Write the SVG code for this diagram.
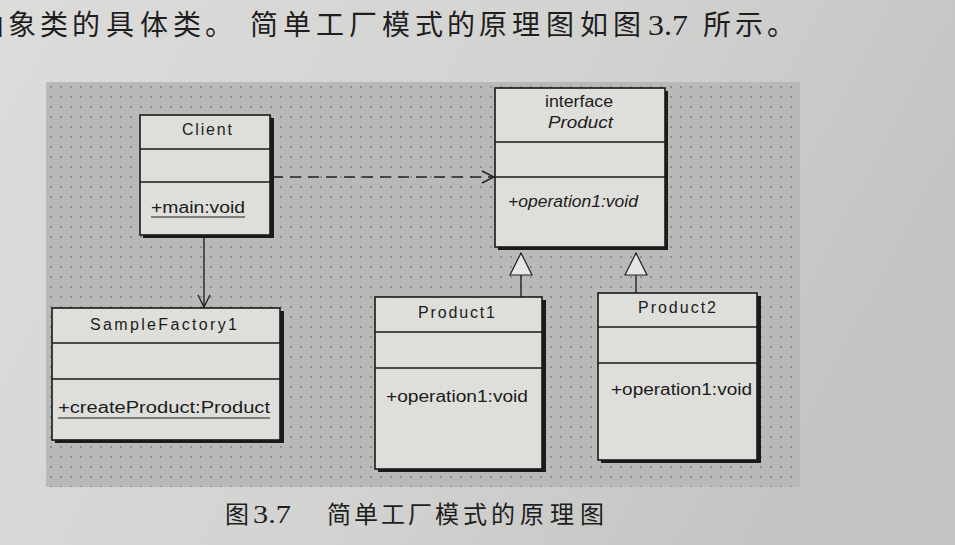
<svg xmlns="http://www.w3.org/2000/svg" width="955" height="545" viewBox="0 0 955 545">
<defs>
<linearGradient id="page" x1="0" y1="0" x2="1" y2="0.3">
<stop offset="0" stop-color="#dcdcda"/>
<stop offset="0.6" stop-color="#d2d2d0"/>
<stop offset="1" stop-color="#c4c4c2"/>
</linearGradient>
<pattern id="dots" x="48" y="84" width="10" height="10" patternUnits="userSpaceOnUse">
<rect width="10" height="10" fill="#b9b9b7"/>
<circle cx="3" cy="3" r="0.75" fill="#555"/>
</pattern>
<marker id="open" viewBox="0 0 14 14" refX="13" refY="7" markerWidth="14" markerHeight="14" markerUnits="userSpaceOnUse" orient="auto">
<path d="M1,1 L13,7 L1,13" fill="none" stroke="#222" stroke-width="1.4"/>
</marker>
<marker id="tri" viewBox="0 0 24 28" refX="23" refY="12" markerWidth="24" markerHeight="28" markerUnits="userSpaceOnUse" orient="auto">
<path d="M23,12 L1,1 L1,23 Z" fill="#e6e6e4" stroke="#222" stroke-width="1.2"/>
</marker>
</defs>
<style>
.box{fill:#dededa;stroke:#1a1a1a;stroke-width:1.6}
.shadow{fill:#1a1a1a}
.div{stroke:#1a1a1a;stroke-width:1.4}
.t{font-family:"Liberation Sans",Arial,sans-serif;font-size:16px;fill:#1c1c1c}
.it{font-style:italic}
.cn{font-family:"Liberation Serif","Noto Sans CJK SC",serif;fill:#1e1e1e}
.conn{fill:none;stroke:#222;stroke-width:1.4}
</style>
<rect width="955" height="545" fill="url(#page)"/>
<g class="cn" font-size="28">
<text x="-25 8 40 72 106 140 173 205" y="35">抽象类的具体类。</text>
<text x="250 283 316 349 382 415 447 479 512 546 580 613" y="35">简单工厂模式的原理图如图</text>
<text x="648" y="35" font-size="29" textLength="40" lengthAdjust="spacingAndGlyphs">3.7</text>
<text x="703 735 767" y="35">所示。</text>
</g>
<rect x="46" y="82" width="754" height="405" fill="url(#dots)"/>

<g id="connectors">
<path class="conn" d="M272,177 L494,177" stroke-dasharray="11,7" marker-end="url(#open)"/>
<path class="conn" d="M204,236 L204,307" marker-end="url(#open)"/>
<path class="conn" d="M521,297 L521,253" marker-end="url(#tri)"/>
<path class="conn" d="M636,293 L636,253" marker-end="url(#tri)"/>
</g>

<g id="client">
<rect class="shadow" x="143" y="118" width="131" height="120"/>
<rect class="box" x="140" y="115" width="130" height="120"/>
<line class="div" x1="140" y1="149" x2="270" y2="149"/>
<line class="div" x1="140" y1="182" x2="270" y2="182"/>
<text class="t" x="182" y="135" textLength="50" lengthAdjust="spacing">Client</text>
<text class="t" x="151" y="213" textLength="94" lengthAdjust="spacingAndGlyphs" font-size="17">+main:void</text>
<line x1="151" y1="217" x2="245" y2="217" stroke="#1c1c1c" stroke-width="1.2"/>
</g>

<g id="product-interface">
<rect class="shadow" x="498" y="91" width="170" height="159"/>
<rect class="box" x="495" y="88" width="170" height="159"/>
<line class="div" x1="495" y1="142" x2="665" y2="142"/>
<line class="div" x1="495" y1="177" x2="665" y2="177"/>
<text class="t" x="545" y="107" textLength="68" lengthAdjust="spacingAndGlyphs">interface</text>
<text class="t it" x="548" y="128" textLength="65" lengthAdjust="spacingAndGlyphs" font-size="15">Product</text>
<text class="t it" x="508" y="207" textLength="130" lengthAdjust="spacingAndGlyphs" font-size="15">+operation1:void</text>
</g>

<g id="samplefactory1">
<rect class="shadow" x="55" y="311" width="229" height="132"/>
<rect class="box" x="52" y="308" width="228" height="132"/>
<line class="div" x1="52" y1="343" x2="280" y2="343"/>
<line class="div" x1="52" y1="379" x2="280" y2="379"/>
<text class="t" x="90" y="330" textLength="147" lengthAdjust="spacing">SampleFactory1</text>
<text class="t" x="58" y="413" font-size="18" textLength="212" lengthAdjust="spacingAndGlyphs">+createProduct:Product</text>
<line x1="58" y1="418" x2="270" y2="418" stroke="#1c1c1c" stroke-width="1.2"/>
</g>

<g id="product1">
<rect class="shadow" x="378" y="300" width="168" height="172"/>
<rect class="box" x="375" y="297" width="167" height="172"/>
<line class="div" x1="375" y1="332" x2="542" y2="332"/>
<line class="div" x1="375" y1="368" x2="542" y2="368"/>
<text class="t" x="418" y="318" textLength="77" lengthAdjust="spacing">Product1</text>
<text class="t" x="386" y="402" font-size="18" textLength="142" lengthAdjust="spacingAndGlyphs">+operation1:void</text>
</g>

<g id="product2">
<rect class="shadow" x="601" y="296" width="160" height="167"/>
<rect class="box" x="598" y="293" width="159" height="167"/>
<line class="div" x1="598" y1="327" x2="757" y2="327"/>
<line class="div" x1="598" y1="363" x2="757" y2="363"/>
<text class="t" x="638" y="313" textLength="78" lengthAdjust="spacing">Product2</text>
<text class="t" x="611" y="395" font-size="18" textLength="141" lengthAdjust="spacingAndGlyphs">+operation1:void</text>
</g>

<g class="cn" font-size="24">
<text x="225" y="523">图</text>
<text x="253" y="523" font-size="26" textLength="38" lengthAdjust="spacingAndGlyphs">3.7</text>
<text x="327 354 381 408 435 463 491 520 550 580" y="523">简单工厂模式的原理图</text>
</g>
</svg>
